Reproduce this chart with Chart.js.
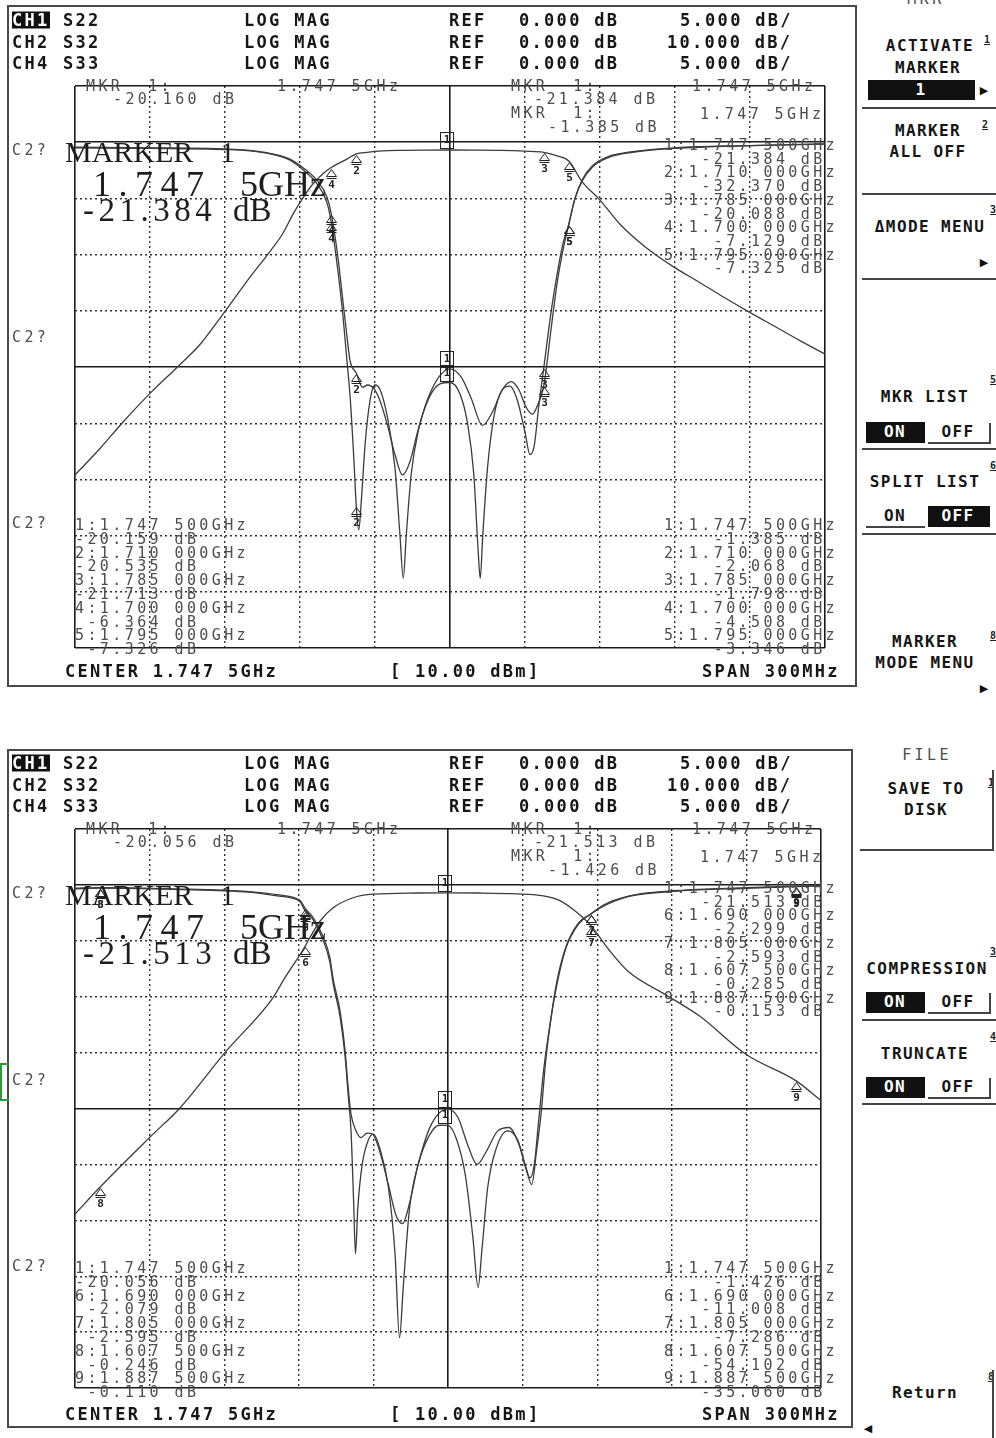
<!DOCTYPE html>
<html>
<head>
<meta charset="utf-8">
<title>S22 / S32 / S33 marker screens</title>
<script src="https://cdn.jsdelivr.net/npm/chart.js@4.4.1/dist/chart.umd.min.js"></script>
<style>
  body { margin: 0; width: 996px; height: 1438px; background: #fff; position: relative; overflow: hidden; }
  canvas { position: absolute; }
  .t { position: absolute; white-space: pre; line-height: 1; font-family: "DejaVu Sans Mono", monospace; }
  .hb { font-weight: bold; font-size: 17px; letter-spacing: 2.3px; color: #161616; }
  .sm { font-size: 15px; letter-spacing: 3.4px; color: #4d4d4d; }
  .sk { font-weight: bold; font-size: 16px; letter-spacing: 1.4px; color: #161616; }
  .sup { font-weight: bold; font-size: 10px; color: #222; text-decoration: underline; }
  .ar { font-family: "DejaVu Sans", sans-serif; font-size: 11px; color: #111; }
  .big { font-family: "Liberation Serif", serif; color: #1e1e1e; }
  .inv { background: #111; color: #fff; }
  .w { color: #fff; }
</style>
</head>
<body>
<canvas id="topChart" width="780" height="600" style="left:60px;top:70px"></canvas>
<canvas id="botChart" width="776" height="600" style="left:60px;top:813px"></canvas>
<script>
// ===== GRID (GHz / dB) =====
const freqTicks = [1.5975, 1.6275, 1.6575, 1.6875, 1.7175, 1.7475, 1.7775, 1.8075, 1.8375, 1.8675, 1.8975];
const dbTicks = [5, 0, -5, -10, -15, -20, -25, -30, -35, -40, -45];   // CH1 / CH4 : 5 dB/div
const solidFreqs = [1.5975, 1.7475, 1.8975];
const solidDb = [5, 0, -20, -45];

// ===== TOP SCREEN TRACES =====
const topS22Freq = [1.5975, 1.6275, 1.6575, 1.6735, 1.6835, 1.6895, 1.6943, 1.6983, 1.7000, 1.7027, 1.7047, 1.7063, 1.7075, 1.7100, 1.7125, 1.7145, 1.7170, 1.7195, 1.7225, 1.7255, 1.7285, 1.7315, 1.7345, 1.7385, 1.7430, 1.7475, 1.7520, 1.7560, 1.7605, 1.7645, 1.7685, 1.7720, 1.7750, 1.7780, 1.7805, 1.7825, 1.7850, 1.7880, 1.7903, 1.7925, 1.7950, 1.7975, 1.8005, 1.8045, 1.8105, 1.8205, 1.8375, 1.8675, 1.8975];
const topS22Db   = [-0.45, -0.5, -0.6, -0.9, -1.5, -2.4, -3.4, -4.9, -6.36, -10.3, -14.2, -17.3, -19.4, -20.54, -21.8, -21.6, -21.9, -23.0, -25.2, -27.8, -29.6, -28.4, -25.8, -22.9, -20.9, -20.16, -20.9, -22.8, -25.2, -24.0, -22.0, -21.3, -22.0, -23.6, -24.2, -23.4, -21.71, -16.5, -12.6, -9.8, -7.33, -5.0, -3.4, -2.2, -1.4, -0.9, -0.55, -0.3, -0.15];

const topS33Freq = [1.5975, 1.6275, 1.6575, 1.6735, 1.6835, 1.6895, 1.6943, 1.6983, 1.7000, 1.7027, 1.7047, 1.7063, 1.7075, 1.7090, 1.7100, 1.7110, 1.7120, 1.7135, 1.7155, 1.7175, 1.7195, 1.7225, 1.7255, 1.7275, 1.7288, 1.7300, 1.7320, 1.7350, 1.7390, 1.7435, 1.7475, 1.7515, 1.7545, 1.7570, 1.7588, 1.7596, 1.7606, 1.7625, 1.7650, 1.7685, 1.7715, 1.7745, 1.7775, 1.7795, 1.7812, 1.7830, 1.7850, 1.7880, 1.7903, 1.7925, 1.7950, 1.7975, 1.8005, 1.8045, 1.8105, 1.8205, 1.8375, 1.8675, 1.8975];
const topS33Db   = [-0.5, -0.55, -0.65, -0.95, -1.6, -2.6, -3.7, -5.4, -7.13, -11.5, -15.5, -19.5, -22.5, -28.0, -32.37, -34.5, -32.0, -27.0, -23.0, -21.6, -22.0, -24.5, -29.0, -35.0, -38.8, -35.0, -29.5, -25.5, -22.8, -21.5, -21.38, -22.4, -25.0, -29.5, -36.5, -38.8, -35.0, -29.0, -24.5, -22.0, -21.7, -23.0, -25.8, -27.8, -27.0, -23.5, -20.09, -15.0, -11.8, -9.2, -7.32, -5.0, -3.3, -2.1, -1.3, -0.85, -0.5, -0.3, -0.18];

const topS32Freq = [1.5975, 1.6075, 1.6163, 1.6275, 1.6387, 1.6475, 1.6575, 1.6675, 1.6747, 1.6807, 1.6847, 1.6887, 1.6927, 1.6967, 1.7000, 1.7063, 1.7100, 1.7143, 1.7205, 1.7275, 1.7375, 1.7475, 1.7575, 1.7675, 1.7775, 1.7850, 1.7900, 1.7950, 1.8003, 1.8075, 1.8155, 1.8255, 1.8363, 1.8475, 1.8567, 1.8667, 1.8775, 1.8875, 1.8975];
const topS32Db   = [-59.2, -54.5, -50.0, -44.7, -39.9, -36.0, -30.1, -24.0, -19.9, -16.2, -12.8, -9.9, -7.4, -5.6, -4.51, -3.0, -2.07, -1.8, -1.55, -1.45, -1.40, -1.385, -1.40, -1.45, -1.6, -1.80, -2.4, -3.35, -7.0, -10.3, -14.6, -18.6, -22.0, -25.0, -27.5, -30.1, -32.8, -35.3, -37.7];

// ===== BOTTOM SCREEN TRACES =====
const botS22Freq = [1.5975, 1.6075, 1.6375, 1.6675, 1.6795, 1.6880, 1.6900, 1.6932, 1.6972, 1.7000, 1.7013, 1.7041, 1.7061, 1.7073, 1.7085, 1.7105, 1.7125, 1.7150, 1.7172, 1.7200, 1.7235, 1.7265, 1.7292, 1.7320, 1.7355, 1.7400, 1.7440, 1.7475, 1.7515, 1.7555, 1.7592, 1.7630, 1.7675, 1.7720, 1.7760, 1.7790, 1.7812, 1.7830, 1.7849, 1.7869, 1.7890, 1.7913, 1.7950, 1.8000, 1.8050, 1.8100, 1.8200, 1.8400, 1.8675, 1.8875, 1.8975];
const botS22Db   = [-0.3, -0.246, -0.35, -0.6, -0.9, -1.4, -2.08, -2.9, -4.6, -6.5, -8.4, -11.3, -14.8, -18.0, -20.5, -22.0, -22.6, -22.2, -22.3, -23.8, -26.8, -29.5, -30.3, -28.5, -25.0, -21.8, -20.4, -20.06, -20.8, -23.3, -25.0, -23.8, -22.0, -21.7, -23.2, -25.5, -26.8, -24.0, -20.5, -15.5, -11.8, -8.6, -5.5, -3.4, -2.6, -1.8, -1.0, -0.5, -0.25, -0.11, -0.08];

const botS33Freq = [1.5975, 1.6075, 1.6375, 1.6675, 1.6795, 1.6880, 1.6900, 1.6932, 1.6972, 1.7000, 1.7013, 1.7041, 1.7061, 1.7073, 1.7085, 1.7095, 1.7103, 1.7112, 1.7130, 1.7155, 1.7175, 1.7200, 1.7235, 1.7262, 1.7280, 1.7295, 1.7320, 1.7355, 1.7400, 1.7440, 1.7475, 1.7510, 1.7545, 1.7575, 1.7596, 1.7612, 1.7635, 1.7670, 1.7715, 1.7755, 1.7785, 1.7805, 1.7822, 1.7840, 1.7860, 1.7885, 1.7913, 1.7950, 1.8000, 1.8050, 1.8100, 1.8200, 1.8400, 1.8675, 1.8875, 1.8975];
const botS33Db   = [-0.35, -0.285, -0.4, -0.65, -1.0, -1.5, -2.30, -3.1, -4.9, -6.9, -8.8, -11.8, -15.3, -18.6, -22.0, -28.0, -33.0, -29.0, -25.0, -22.8, -22.3, -23.5, -27.0, -33.0, -40.5, -36.0, -29.0, -25.0, -22.4, -21.5, -21.51, -22.8, -26.0, -31.5, -36.0, -32.5, -27.0, -23.5, -22.0, -22.8, -25.0, -26.2, -25.0, -21.0, -16.5, -12.5, -8.9, -5.6, -3.5, -2.59, -1.9, -1.05, -0.55, -0.3, -0.153, -0.1];

const botS32Freq = [1.5975, 1.6075, 1.6277, 1.6397, 1.6578, 1.6771, 1.6811, 1.6850, 1.6880, 1.6900, 1.6920, 1.6960, 1.7013, 1.7093, 1.7173, 1.7350, 1.7475, 1.7600, 1.7750, 1.7850, 1.7925, 1.7990, 1.8050, 1.8120, 1.8200, 1.8356, 1.8488, 1.8676, 1.8875, 1.8975];
const botS32Db   = [-58.9, -54.1, -45.1, -39.9, -30.0, -20.2, -17.2, -14.5, -12.5, -11.0, -9.4, -6.5, -4.1, -2.3, -1.65, -1.45, -1.426, -1.45, -1.6, -1.9, -2.8, -4.8, -7.29, -11.5, -15.5, -19.8, -23.5, -30.4, -35.06, -38.6];

// ===== MARKERS =====
const topMkrNums = [1, 2, 3, 4, 5];
const topMkrFreq = [1.7475, 1.710, 1.785, 1.700, 1.795];
const topMkrS22  = [-20.159, -20.535, -21.713, -6.364, -7.326];
const topMkrS33  = [-21.384, -32.370, -20.088, -7.129, -7.325];
const topMkrS32  = [-1.385, -2.068, -1.798, -4.508, -3.346];

const botMkrNums = [1, 6, 7, 8, 9];
const botMkrFreq = [1.7475, 1.690, 1.805, 1.6075, 1.8875];
const botMkrS22  = [-20.056, -2.079, -2.595, -0.246, -0.110];
const botMkrS33  = [-21.513, -2.299, -2.593, -0.285, -0.153];
const botMkrS32  = [-1.426, -11.008, -7.286, -54.102, -35.060];

// ===== CHARTS =====
const isSolid = (list, c) => !!(c.tick && list.includes(c.tick.value));

function markerLayer(mk) {
  return {
    id: 'mkr',
    afterDatasetsDraw(chart) {
      const { ctx, scales } = chart;
      ctx.save();
      ctx.strokeStyle = '#222';
      ctx.fillStyle = '#222';
      ctx.lineWidth = 1;
      ctx.font = 'bold 11px "DejaVu Sans Mono"';
      ctx.textAlign = 'center';
      ctx.textBaseline = 'top';
      mk.traces.forEach(tr => {
        mk.freqs.forEach((f, i) => {
          const x = Math.round(scales.x.getPixelForValue(f)) + 0.5;
          const y = Math.round(scales[tr.axis].getPixelForValue(tr.vals[i])) + 0.5;
          if (mk.nums[i] === 1) {
            ctx.strokeRect(x - 10, y - 18, 13, 16);
            ctx.fillText('1', x - 3.5, y - 16);
          } else {
            ctx.beginPath();
            ctx.moveTo(x, y + 1);
            ctx.lineTo(x - 5, y + 8);
            ctx.lineTo(x + 5, y + 8);
            ctx.closePath();
            ctx.stroke();
            ctx.beginPath();
            ctx.moveTo(x - 5, y + 10);
            ctx.lineTo(x + 5, y + 10);
            ctx.stroke();
            ctx.fillText(String(mk.nums[i]), x, y + 11);
          }
        });
      });
      ctx.restore();
    }
  };
}

function makeChart(id, pad, traces, mk) {
  return new Chart(document.getElementById(id), {
    type: 'line',
    data: {
      datasets: traces.map(tr => ({
        data: tr.f.map((f, i) => ({ x: f, y: tr.db[i] })),
        yAxisID: tr.axis,
        borderColor: '#3c3c3c',
        borderWidth: 1.3,
        pointRadius: 0,
        fill: false,
        cubicInterpolationMode: 'monotone'
      }))
    },
    options: {
      responsive: false,
      animation: false,
      devicePixelRatio: 1,
      parsing: false,
      layout: { padding: pad },
      plugins: { legend: { display: false }, tooltip: { enabled: false } },
      scales: {
        x: {
          type: 'linear', min: 1.5975, max: 1.8975,
          afterBuildTicks: ax => { ax.ticks = freqTicks.map(v => ({ value: v })); },
          afterFit: ax => { ax.height = 0; },
          ticks: { display: false },
          grid: {
            drawTicks: false,
            color: c => isSolid(solidFreqs, c) ? '#1a1a1a' : '#333',
            lineWidth: c => isSolid(solidFreqs, c) ? 1.6 : 1.4
          },
          border: { display: false, dash: c => isSolid(solidFreqs, c) ? [] : [2, 3] }
        },
        y: {
          type: 'linear', min: -45, max: 5,
          afterBuildTicks: ax => { ax.ticks = dbTicks.map(v => ({ value: v })); },
          afterFit: ax => { ax.width = 0; },
          ticks: { display: false },
          grid: {
            drawTicks: false,
            color: c => isSolid(solidDb, c) ? '#1a1a1a' : '#333',
            lineWidth: c => isSolid(solidDb, c) ? 1.6 : 1.4
          },
          border: { display: false, dash: c => isSolid(solidDb, c) ? [] : [2, 3] }
        },
        y2: {
          type: 'linear', min: -90, max: 10,
          afterFit: ax => { ax.width = 0; },
          ticks: { display: false },
          grid: { display: false },
          border: { display: false }
        }
      }
    },
    plugins: [markerLayer(mk)]
  });
}

makeChart('topChart', { left: 15, top: 16, right: 15, bottom: 22 }, [
  { f: topS32Freq, db: topS32Db, axis: 'y2' },
  { f: topS22Freq, db: topS22Db, axis: 'y' },
  { f: topS33Freq, db: topS33Db, axis: 'y' }
], { nums: topMkrNums, freqs: topMkrFreq, traces: [
  { axis: 'y', vals: topMkrS22 }, { axis: 'y', vals: topMkrS33 }, { axis: 'y2', vals: topMkrS32 }
] });

makeChart('botChart', { left: 15, top: 16, right: 15, bottom: 25 }, [
  { f: botS32Freq, db: botS32Db, axis: 'y2' },
  { f: botS22Freq, db: botS22Db, axis: 'y' },
  { f: botS33Freq, db: botS33Db, axis: 'y' }
], { nums: botMkrNums, freqs: botMkrFreq, traces: [
  { axis: 'y', vals: botMkrS22 }, { axis: 'y', vals: botMkrS33 }, { axis: 'y2', vals: botMkrS32 }
] });

// ===== TEXT =====
function put(x, y, s, cls, align) {
  const d = document.createElement('div');
  d.className = 't ' + cls;
  d.textContent = s;
  d.style.left = x + 'px';
  d.style.top = y + 'px';
  d.style.transform = align === 'r' ? 'translate(-100%,-50%)' : align === 'c' ? 'translate(-50%,-50%)' : 'translateY(-50%)';
  document.body.appendChild(d);
  return d;
}
function rect(x, y, w, h, css) {
  const d = document.createElement('div');
  d.style.cssText = `position:absolute;left:${x}px;top:${y}px;width:${w}px;height:${h}px;${css}`;
  document.body.appendChild(d);
  return d;
}
function listLines(nums, freqs, vals, indent) {
  const out = [];
  nums.forEach((n, i) => {
    const s = freqs[i].toFixed(6);
    out.push(`${n}:${s.slice(0, 5)} ${s.slice(5)}GHz`);
    out.push(indent + vals[i].toFixed(3).padStart(7) + ' dB');
  });
  return out;
}

// frames
rect(7, 5, 850, 682, 'border:2px solid #4a4a4a;box-sizing:border-box');
rect(7, 749, 846, 679, 'border:2px solid #4a4a4a;box-sizing:border-box');

const screens = [
  { dy: 0, mkrA: '-20.160 dB', mkrB: '-21.384 dB', mkrC: '-1.385 dB', big: '-21.384',
    nums: topMkrNums, freqs: topMkrFreq, s22: topMkrS22, s33: topMkrS33, s32: topMkrS32 },
  { dy: 743, mkrA: '-20.056 dB', mkrB: '-21.513 dB', mkrC: '-1.426 dB', big: '-21.513',
    nums: botMkrNums, freqs: botMkrFreq, s22: botMkrS22, s33: botMkrS33, s32: botMkrS32 }
];

screens.forEach(sc => {
  const d = sc.dy;
  // channel header
  put(12, 20 + d, 'CH1', 'hb inv');
  put(12, 42 + d, 'CH2', 'hb');
  put(12, 63 + d, 'CH4', 'hb');
  put(63, 20 + d, 'S22', 'hb');
  put(63, 42 + d, 'S32', 'hb');
  put(63, 63 + d, 'S33', 'hb');
  [20, 42, 63].forEach(y => {
    put(244, y + d, 'LOG MAG', 'hb');
    put(449, y + d, 'REF', 'hb');
    put(519, y + d, '0.000 dB', 'hb');
  });
  put(680, 20 + d, '5.000 dB/', 'hb');
  put(667, 42 + d, '10.000 dB/', 'hb');
  put(680, 63 + d, '5.000 dB/', 'hb');

  // marker readouts
  put(86, 86 + d, 'MKR  1:', 'sm');
  put(277, 86 + d, '1.747 5GHz', 'sm');
  put(113, 99 + d, sc.mkrA, 'sm');
  put(511, 86 + d, 'MKR  1:', 'sm');
  put(692, 86 + d, '1.747 5GHz', 'sm');
  put(534, 99 + d, sc.mkrB, 'sm');
  put(511, 113 + d, 'MKR  1:', 'sm');
  put(700, 114 + d, '1.747 5GHz', 'sm');
  put(548, 127 + d, sc.mkrC, 'sm');

  // big active marker
  put(65, 152 + d, 'MARKER', 'big').style.fontSize = '30px';
  put(220, 152 + d, '1', 'big').style.fontSize = '30px';
  const r2 = put(93, 184 + d, '1.747', 'big');
  r2.style.fontSize = '36px'; r2.style.letterSpacing = '7.5px';
  put(240, 184 + d, '5GHz', 'big').style.fontSize = '36px';
  const r3 = put(83, 210 + d, sc.big, 'big');
  r3.style.fontSize = '33px'; r3.style.letterSpacing = '4.5px';
  put(233, 210 + d, 'dB', 'big').style.fontSize = '33px';

  // left labels
  [150, 337, 523].forEach(y => put(12, y + d, 'C2?', 'sm'));

  // marker lists
  listLines(sc.nums, sc.freqs, sc.s33, '   ').forEach((s, i) => put(664, 145 + d + i * 13.7, s, 'sm'));
  listLines(sc.nums, sc.freqs, sc.s22, '').forEach((s, i) => put(75, 525 + d + i * 13.8, s, 'sm'));
  listLines(sc.nums, sc.freqs, sc.s32, '   ').forEach((s, i) => put(664, 525 + d + i * 13.8, s, 'sm'));

  // footer
  put(65, 672 + d - 1, 'CENTER 1.747 5GHz', 'hb');
  put(390, 672 + d - 1, '[ 10.00 dBm]', 'hb');
  put(702, 672 + d - 1, 'SPAN 300MHz', 'hb');
});

// ===== SOFTKEYS =====
const ink = 'background:#444';
function toggle(y, onActive) {
  if (onActive) {
    rect(866, y - 10, 59, 21, 'background:#111');
    put(895, y, 'ON', 'sk w', 'c');
    put(958, y, 'OFF', 'sk', 'c');
    rect(928, y + 10, 62, 2, ink);
    rect(989, y - 9, 2, 21, ink);
  } else {
    put(895, y, 'ON', 'sk', 'c');
    rect(866, y + 10, 59, 2, ink);
    rect(928, y - 10, 62, 21, 'background:#111');
    put(958, y, 'OFF', 'sk w', 'c');
  }
}

put(926, -1, 'MKR', 'sm', 'c');
put(930, 46, 'ACTIVATE', 'sk', 'c'); put(984, 40, '1', 'sup');
put(928, 68, 'MARKER', 'sk', 'c');
rect(868, 80, 107, 20, 'background:#111');
put(921, 90, '1', 'sk w', 'c');
put(984, 90, '▶', 'ar', 'c');
rect(862, 107, 134, 2, ink);
put(928, 131, 'MARKER', 'sk', 'c'); put(982, 125, '2', 'sup');
put(928, 152, 'ALL OFF', 'sk', 'c');
rect(862, 193, 134, 2, ink);
put(930, 227, 'ΔMODE MENU', 'sk', 'c'); put(990, 210, '3', 'sup');
put(984, 262, '▶', 'ar', 'c');
rect(862, 278, 134, 2, ink);
put(925, 397, 'MKR LIST', 'sk', 'c'); put(990, 380, '5', 'sup');
toggle(432, true);
rect(862, 448, 134, 2, ink);
put(925, 482, 'SPLIT LIST', 'sk', 'c'); put(990, 466, '6', 'sup');
toggle(516, false);
rect(862, 533, 134, 2, ink);
put(925, 642, 'MARKER', 'sk', 'c'); put(990, 636, '8', 'sup');
put(925, 663, 'MODE MENU', 'sk', 'c');
put(984, 688, '▶', 'ar', 'c');

put(927, 755, 'FILE', 'sm', 'c');
put(926, 789, 'SAVE TO', 'sk', 'c'); put(988, 783, '1', 'sup');
put(926, 810, 'DISK', 'sk', 'c');
rect(860, 849, 134, 2, ink);
rect(992, 770, 2, 80, ink);
put(927, 969, 'COMPRESSION', 'sk', 'c'); put(990, 952, '3', 'sup');
toggle(1002, true);
rect(862, 1019, 134, 2, ink);
put(925, 1054, 'TRUNCATE', 'sk', 'c'); put(990, 1037, '4', 'sup');
toggle(1087, true);
rect(862, 1103, 134, 2, ink);
put(925, 1393, 'Return', 'sk', 'c'); put(988, 1377, '8', 'sup');
rect(992, 1370, 2, 68, ink);
put(868, 1428, '◀', 'ar', 'c');

// green bracket at left edge of lower screen
rect(0, 1063, 9, 2, 'background:#2f9a3c');
rect(0, 1099, 9, 2, 'background:#2f9a3c');
rect(0, 1063, 2, 38, 'background:#2f9a3c');
</script>
</body>
</html>
